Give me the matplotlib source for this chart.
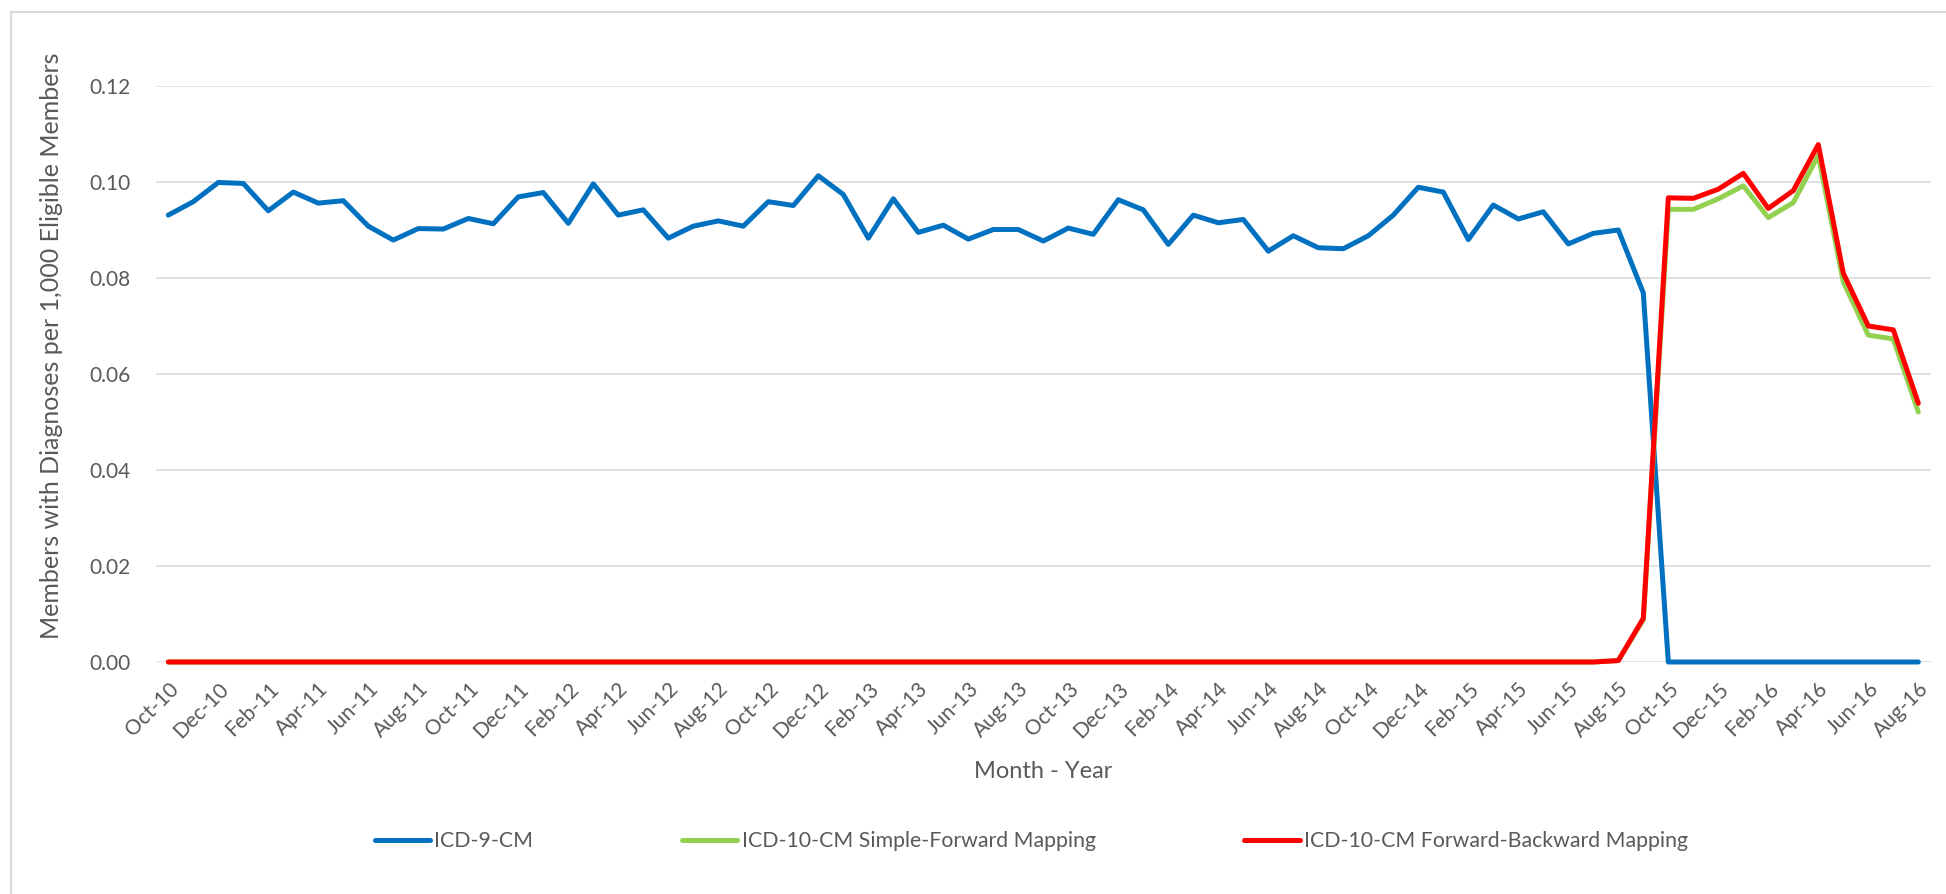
import matplotlib
matplotlib.use("Agg")
import matplotlib.pyplot as plt
from matplotlib.lines import Line2D

# ---- data ----
start_year, start_month = 2010, 10
n_months = 71
mon_names = ["Jan", "Feb", "Mar", "Apr", "May", "Jun", "Jul", "Aug", "Sep", "Oct", "Nov", "Dec"]
months = []
for k in range(n_months):
    m = (start_month - 1 + k) % 12
    y = start_year + (start_month - 1 + k) // 12
    months.append(f"{mon_names[m]}-{y % 100:02d}")

icd9 = [0.0931, 0.0959, 0.0999, 0.0997, 0.0940, 0.0979, 0.0956, 0.0961, 0.0908, 0.0879,
        0.0903, 0.0902, 0.0924, 0.0913, 0.0969, 0.0978, 0.0914, 0.0996, 0.0931, 0.0942,
        0.0883, 0.0908, 0.0919, 0.0908, 0.0959, 0.0951, 0.1013, 0.0974, 0.0883, 0.0965,
        0.0895, 0.0910, 0.0881, 0.0901, 0.0901, 0.0877, 0.0904, 0.0891, 0.0963, 0.0942,
        0.0870, 0.0931, 0.0915, 0.0922, 0.0856, 0.0888, 0.0863, 0.0861, 0.0888, 0.0931,
        0.0989, 0.0979, 0.0880, 0.0952, 0.0923, 0.0938, 0.0871, 0.0893, 0.0900, 0.0769,
        0.0, 0.0, 0.0, 0.0, 0.0, 0.0, 0.0, 0.0, 0.0, 0.0, 0.0]

icd10_simple = [0.0] * 58 + [0.0003, 0.0088,
                0.0943, 0.0943, 0.0965, 0.0992, 0.0926, 0.0957, 0.1056, 0.0792, 0.0681, 0.0673, 0.0521]

icd10_fb = [0.0] * 58 + [0.0003, 0.0091,
            0.0967, 0.0966, 0.0985, 0.1018, 0.0945, 0.0982, 0.1078, 0.0810, 0.0700, 0.0692, 0.0539]

series_names = ["ICD-9-CM", "ICD-10-CM Simple-Forward Mapping", "ICD-10-CM Forward-Backward Mapping"]
yticks = [0.00, 0.02, 0.04, 0.06, 0.08, 0.10, 0.12]

# ---- style ----
FONT = "Lato"
TXT = "#595959"
colors = ["#0070C0", "#92D050", "#FF0000"]
LW = 3.6

fig = plt.figure(figsize=(19.46, 8.94), dpi=100)
W, H = 1946, 894
x0, x1 = 155.8, 1930.8
ytop, ybot = 86.0, 662.0
ax = fig.add_axes([x0 / W, 1 - ybot / H, (x1 - x0) / W, (ybot - ytop) / H])

xs = list(range(n_months))
for data, c, name in zip([icd9, icd10_simple, icd10_fb], colors, series_names):
    ax.plot(xs, data, color=c, lw=LW, solid_joinstyle="round", solid_capstyle="round",
            clip_on=False, zorder=3, label=name)

ax.set_xlim(-0.5, n_months - 0.5)
ax.set_ylim(0, 0.12)
ax.set_yticks(yticks)
ax.set_yticklabels([f"{v:.2f}" for v in yticks], fontfamily=FONT, fontsize=15, color=TXT)
ax.set_xticks(xs[::2])
ax.set_xticklabels(months[::2], rotation=45, ha="right", rotation_mode="anchor",
                   fontfamily=FONT, fontsize=15, color=TXT)
ax.tick_params(axis="both", length=0)
ax.tick_params(axis="y", pad=18)
ax.tick_params(axis="x", pad=12)
ax.grid(axis="y", color="#D9D9D9", lw=1.1, zorder=0)
ax.set_axisbelow(True)
for s in ax.spines.values():
    s.set_visible(False)

fig.text(1043 / W, 1 - 771 / H, "Month - Year", ha="center", va="center",
         fontfamily=FONT, fontsize=17, color=TXT)
fig.text(52 / W, 1 - 346 / H, "Members with Diagnoses per 1,000 Eligible Members",
         rotation=90, ha="center", va="center", fontfamily=FONT, fontsize=18, color=TXT)

handles = [Line2D([], [], color=c, lw=LW, solid_capstyle="round") for c in colors]
leg = fig.legend(handles, series_names, loc="center", bbox_to_anchor=(0.530, 1 - 841 / H),
                 ncol=3, frameon=False, prop={"family": FONT, "size": 15.3},
                 handlelength=2.6, handletextpad=0.2, columnspacing=7.0)
for t in leg.get_texts():
    t.set_color(TXT)

# chart area border (top and left visible)
fig.add_artist(Line2D([11 / W, 1.0], [1 - 12 / H, 1 - 12 / H], transform=fig.transFigure,
                      color="#D9D9D9", lw=1.5))
fig.add_artist(Line2D([11 / W, 11 / W], [1 - 12 / H, 0.0], transform=fig.transFigure,
                      color="#D9D9D9", lw=1.5))

fig.savefig("out.png", dpi=100, facecolor="white")
